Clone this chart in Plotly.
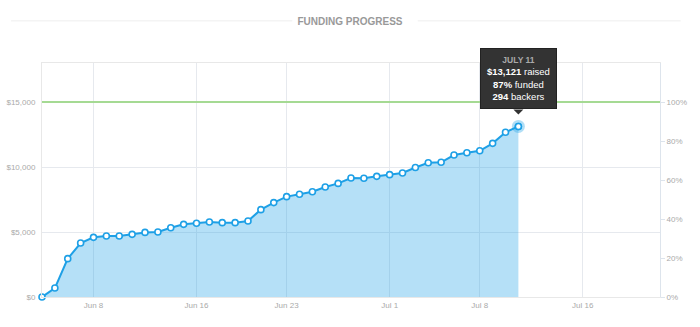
import pandas as pd
import plotly.graph_objects as go

# Campaign data: cumulative dollars raised per day
START_DATE = "2014-06-04"
RAISED = [
    0, 690, 2950, 4150, 4590, 4690, 4690, 4820, 4970, 5000,
    5330, 5590, 5670, 5770, 5720, 5720, 5850, 6720, 7260, 7720,
    7900, 8100, 8460, 8740, 9150, 9130, 9280, 9410, 9540, 9960,
    10330, 10360, 10920, 11100, 11250, 11820, 12670, 13121,
]
GOAL = 15000
BACKERS = 294
END_DATE = "2014-07-22"
Y_MAX = 18000

X_TICKS = ["2014-06-08", "2014-06-16", "2014-06-23", "2014-07-01", "2014-07-08", "2014-07-16"]
X_TICK_TEXT = ["Jun 8", "Jun 16", "Jun 23", "Jul 1", "Jul 8", "Jul 16"]
Y_TICKS = [0, 5000, 10000, 15000]
PCT_TICKS = [0, 20, 40, 60, 80, 100]

dates = pd.date_range(START_DATE, periods=len(RAISED), freq="D")
pct = [v / GOAL * 100 for v in RAISED]

BLUE = "#1ea0e6"
FILL = "rgba(30,160,230,0.33)"
GRID = "#e6e9ee"
FONT = "Liberation Sans, Arial, sans-serif"
TICK_FONT = dict(family=FONT, size=8, color="#aaaaaa")

fig = go.Figure()

# funded percentage on the right axis (keeps the axis live, not drawn)
fig.add_trace(go.Scatter(
    x=dates, y=pct, yaxis="y2", mode="lines",
    line=dict(width=0, color="rgba(0,0,0,0)"), hoverinfo="skip", showlegend=False,
))

# area + line + markers
fig.add_trace(go.Scatter(
    x=dates, y=RAISED, mode="lines+markers",
    fill="tozeroy", fillcolor=FILL,
    line=dict(color=BLUE, width=2),
    marker=dict(size=6, color="white", line=dict(color=BLUE, width=1.6)),
    cliponaxis=False, showlegend=False, hoverinfo="skip",
))

# highlighted latest day
last_date = dates[-1]
last_val = RAISED[-1]
fig.add_trace(go.Scatter(
    x=[last_date], y=[last_val], mode="markers",
    marker=dict(size=13, color="rgba(30,160,230,0.35)"),
    cliponaxis=False, showlegend=False, hoverinfo="skip",
))
fig.add_trace(go.Scatter(
    x=[last_date], y=[last_val], mode="markers",
    marker=dict(size=6, color="white", line=dict(color=BLUE, width=1.6)),
    cliponaxis=False, showlegend=False, hoverinfo="skip",
))

# funding goal line
fig.add_shape(type="line", xref="paper", x0=0, x1=1, yref="y", y0=GOAL, y1=GOAL,
              line=dict(color="#a5da93", width=2), layer="above")

# title rules
for x0, x1 in [(-0.050, 0.405), (0.608, 1.0335)]:
    fig.add_shape(type="line", xref="paper", yref="paper", x0=x0, x1=x1,
                  y0=1.18, y1=1.18, line=dict(color="#eeeeee", width=1))

# tooltip for latest day
funded_pct = int(last_val / GOAL * 100)
tip = (
    f"<span style='font-size:8.5px;color:#aaaaaa'><b>{last_date.strftime('%B').upper()} {last_date.day}</b></span><br>"
    f"<b>${last_val:,}</b> raised<br>"
    f"<b>{funded_pct}%</b> funded<br>"
    f"<b>{BACKERS}</b> backers"
)
fig.add_annotation(
    x=last_date, y=last_val, xref="x", yref="y",
    text=tip, showarrow=False, yanchor="bottom", xanchor="center", yshift=17,
    align="center", bgcolor="#333333", bordercolor="#222222", borderwidth=1, borderpad=6,
    font=dict(family=FONT, size=9.5, color="white"),
)
fig.add_shape(type="path", xref="x", yref="y", xsizemode="pixel", ysizemode="pixel",
              xanchor=last_date, yanchor=last_val,
              path="M-5,17 L5,17 L0,12 Z", fillcolor="#333333", line=dict(width=0))

fig.update_layout(
    width=700, height=327,
    margin=dict(l=42, r=40, t=63, b=30),
    paper_bgcolor="white", plot_bgcolor="white",
    title=dict(text="<b>FUNDING PROGRESS</b>", x=0.5, xref="container", xanchor="center",
               y=1 - 21 / 327, yanchor="middle",
               font=dict(family=FONT, size=10, color="#999999")),
    xaxis=dict(
        type="date", range=[START_DATE, END_DATE],
        tickvals=X_TICKS, ticktext=X_TICK_TEXT,
        showgrid=True, gridcolor=GRID, gridwidth=1,
        showline=True, linecolor="#e8e8e8", mirror=True,
        ticks="", tickfont=TICK_FONT, zeroline=False, automargin=False,
    ),
    yaxis=dict(
        range=[0, Y_MAX], tickvals=Y_TICKS, ticktext=[f"${v:,}" for v in Y_TICKS],
        showgrid=True, gridcolor=GRID, gridwidth=1,
        showline=True, linecolor="#e8e8e8", mirror=True,
        ticks="", tickfont=TICK_FONT, zeroline=False, ticklabelstandoff=4,
        automargin=False,
    ),
    yaxis2=dict(
        overlaying="y", side="right", range=[0, Y_MAX / GOAL * 100],
        tickvals=PCT_TICKS, ticktext=[f"{v}%" for v in PCT_TICKS],
        showgrid=False, zeroline=False,
        showline=True, linecolor="#dde4ec",
        ticks="outside", ticklen=4, tickcolor="#dde4ec",
        tickfont=TICK_FONT, automargin=False,
    ),
)

fig.write_html("out.html")
